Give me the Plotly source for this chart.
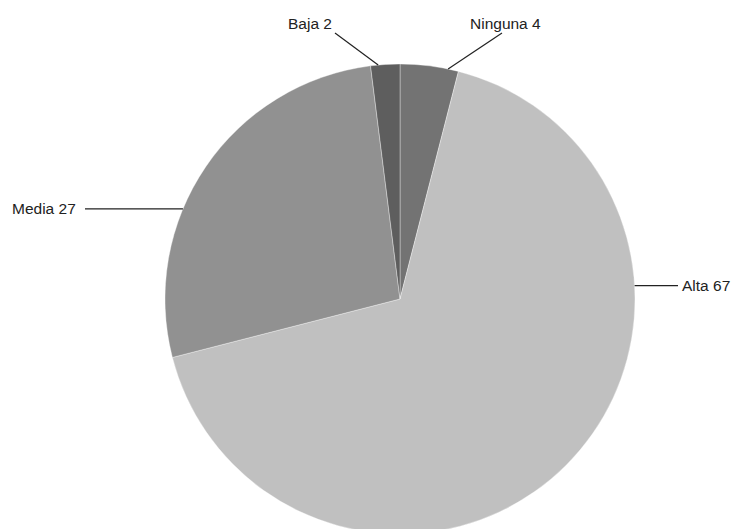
import math
import plotly.graph_objects as go

# ---- data ----
categories = ["Ninguna", "Alta", "Media", "Baja"]
values = [4, 67, 27, 2]

# ---- style / layout ----
colors = ["#737373", "#c0c0c0", "#919191", "#5e5e5e"]
W, H = 733, 535
CX, CY, R = 400.0, 299.0, 235.0  # in screen px
FONT = dict(family="Liberation Sans, Arial, sans-serif", size=15.5, color="#222222")

# where along each slice (0..1) the leader starts, and label placement
leader_frac = [0.82, 0.30, 0.38, 0.26]
label_cfg = [
    dict(kind="up", end=(502, 33), text_xy=(505, 24), xanchor="center"),   # Ninguna
    dict(kind="right", end_x=678, text_x=680, xanchor="left"),             # Alta
    dict(kind="left", end_x=85, text_x=78, xanchor="right"),               # Media
    dict(kind="up", end=(335, 33), text_xy=(334, 24), xanchor="right"),    # Baja
]


def px(x):
    return x / W


def py(y):
    return 1 - y / H


fig = go.Figure(
    go.Pie(
        labels=categories,
        values=values,
        sort=False,
        direction="clockwise",
        rotation=0,
        marker=dict(colors=colors, line=dict(color="rgba(255,255,255,0.6)", width=0.6)),
        textinfo="none",
        hoverinfo="label+value",
        showlegend=False,
        domain=dict(x=[px(CX - R), px(CX + R)], y=[max(0, py(CY + R)), py(CY - R)]),
    )
)

total = sum(values)
shapes, annotations = [], []
start = 0.0
for cat, val, frac, cfg in zip(categories, values, leader_frac, label_cfg):
    span = 360.0 * val / total
    ang = math.radians(start + frac * span)
    ax_ = CX + R * math.sin(ang)
    ay_ = CY - R * math.cos(ang)
    start += span
    if cfg["kind"] == "up":
        ex, ey = cfg["end"]
        tx, ty = cfg["text_xy"]
    else:
        ex, ey = cfg["end_x"], ay_
        tx, ty = cfg["text_x"], ay_
    shapes.append(dict(type="line", xref="paper", yref="paper",
                       x0=px(ax_), y0=py(ay_), x1=px(ex), y1=py(ey),
                       line=dict(color="#222222", width=1.2)))
    annotations.append(dict(text=f"{cat} {val}", x=px(tx), y=py(ty), xref="paper", yref="paper",
                            xanchor=cfg["xanchor"], yanchor="middle", showarrow=False, font=FONT))

fig.update_layout(
    width=W, height=H,
    margin=dict(l=0, r=0, t=0, b=0),
    paper_bgcolor="white", plot_bgcolor="white",
    shapes=shapes, annotations=annotations,
)

fig.write_html(
    "out.html",
    config={"displayModeBar": False},
    post_script=(
        "document.body.style.margin='0';"
        "document.body.style.overflow='hidden';"
        "document.documentElement.style.overflow='hidden';"
    ),
)
